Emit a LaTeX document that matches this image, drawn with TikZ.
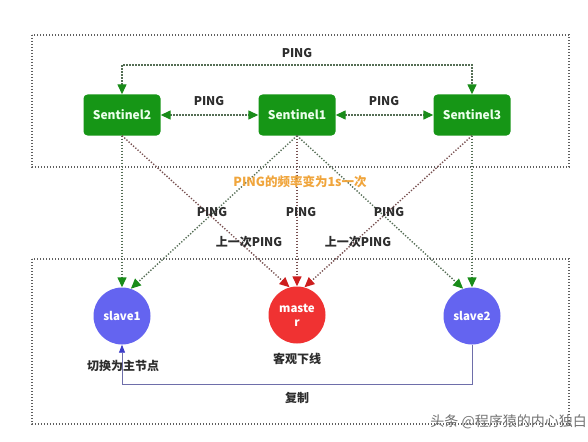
\documentclass[tikz,border=0pt]{standalone}
\usepackage{fontspec}
\newfontfamily\cjk{Noto Sans CJK SC}
\usetikzlibrary{arrows.meta}
\definecolor{sgreen}{RGB}{22,150,22}
\definecolor{tipgreen}{RGB}{25,140,25}
\definecolor{tipred}{RGB}{205,30,30}
\definecolor{slaveblue}{RGB}{100,100,240}
\definecolor{masterred}{RGB}{240,50,50}
\definecolor{boxgray}{RGB}{95,95,95}
\definecolor{glineg}{RGB}{85,110,85}
\definecolor{gliner}{RGB}{120,80,80}
\definecolor{copyc}{RGB}{110,110,170}
\definecolor{tipblue}{RGB}{60,60,200}
\definecolor{orangec}{RGB}{240,165,60}
\definecolor{txt}{RGB}{45,45,45}
\begin{document}
\begin{tikzpicture}[x=1pt,y=-1pt,
  box/.style={draw=boxgray, dash pattern=on 1.3pt off 1.7pt, line width=1.4pt},
  sentbox/.style={fill=sgreen, rounded corners=4pt, minimum width=77pt, minimum height=41pt,
    inner sep=0pt, text={rgb,255:red,235;green,255;blue,235}, font=\cjk\bfseries\fontsize{12}{14}\selectfont},
  slavenode/.style={circle, fill=slaveblue, minimum size=57pt, inner sep=0pt, text=white,
    font=\cjk\bfseries\fontsize{11.5}{14}\selectfont},
  masternode/.style={circle, fill=masterred, minimum size=57pt, inner sep=0pt, text=white, align=center,
    font=\cjk\bfseries\fontsize{11.5}{14}\selectfont},
  lbl/.style={text=txt, font=\cjk\bfseries\fontsize{12}{14}\selectfont},
  dotline/.style={dash pattern=on 1.3pt off 1.7pt, line width=1.4pt},
  gline/.style={draw=glineg, dotline, -{Triangle[length=10pt,width=9pt,color=tipgreen]}},
  gline2/.style={draw=glineg, dotline, {Triangle[length=10pt,width=9pt,color=tipgreen]}-{Triangle[length=10pt,width=9pt,color=tipgreen]}},
  rline/.style={draw=gliner, dotline, -{Triangle[length=10pt,width=9pt,color=tipred]}},
  copyline/.style={draw=copyc, line width=0.8pt, -{Triangle[length=8pt,width=6pt,color=tipblue]}}
]
\useasboundingbox (0,0) rectangle (588,441);
\fill[white] (0,0) rectangle (588,441);

% boxes
\draw[box] (32,35) rectangle (569,167);
\draw[box] (32,259) rectangle (569,424);

% nodes
\node[sentbox] (s2) at (122,115) {Sentinel2};
\node[sentbox] (s1) at (297,115) {Sentinel1};
\node[sentbox] (s3) at (472,115) {Sentinel3};
\node[slavenode] (sl1) at (122,316) {slave1};
\node[masternode] (m) at (297,315) {maste\\r};
\node[slavenode] (sl2) at (472,316) {slave2};

\coordinate (toplineL) at (122,65);
\coordinate (copyY) at (0,384);

% top pings
\draw[gline2] (s2.north) -- (toplineL) -| (s3.north);
\draw[gline2] (s2.east) -- (s1.west);
\draw[gline2] (s1.east) -- (s3.west);

% sentinel to nodes
\draw[gline] (s2.south) -- (sl1.north);
\draw[gline] (s1.south) -- (sl1.72);
\draw[rline] (s2.south) -- (m.105);
\draw[rline] (s1.south) -- (m.north);
\draw[rline] (s3.south) -- (m.75);
\draw[gline] (s1.south) -- (sl2.108);
\draw[gline] (s3.south) -- (sl2.north);

% copy line
\draw[copyline] (sl2.south) -- (sl2.south |- copyY) -| (sl1.south);

% labels
\node[lbl] (ptop) at (297,53) {PING};
\node[lbl] (p21) at (209,101) {PING};
\node[lbl] (p13) at (384,101) {PING};
\node[text=orangec, font=\cjk\bfseries\fontsize{12.5}{14}\selectfont] (freq) at (300,182) {PING的频率变为1s一次};
\node[lbl] (pa) at (212,212) {PING};
\node[lbl] (pb) at (301,212) {PING};
\node[lbl] (pc) at (389,212) {PING};
\node[lbl] (la) at (249,242) {上一次PING};
\node[lbl] (lb) at (358,242) {上一次PING};
\node[lbl] (sw) at (123,366) {切换为主节点};
\node[lbl] (kg) at (297,359) {客观下线};
\node[lbl] (fz) at (297,398) {复制};
\node[text=black!55, font=\cjk\fontsize{14}{16}\selectfont, anchor=east, inner sep=0pt] (wm) at (587,422) {头条 @程序猿的内心独白};
\end{tikzpicture}
\end{document}
